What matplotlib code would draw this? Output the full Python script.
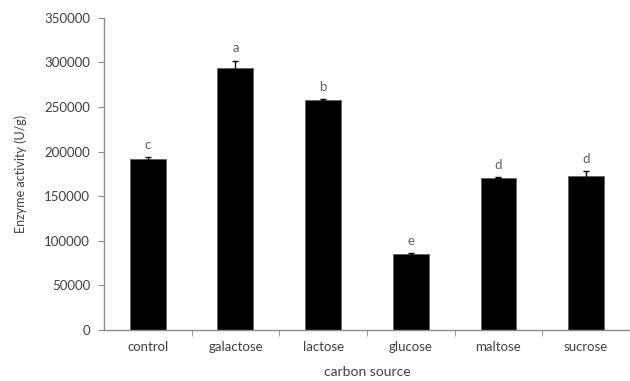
import matplotlib.pyplot as plt
import numpy as np

plt.rcParams['font.family'] = ['Lato', 'DejaVu Sans']

sources = ["control", "galactose", "lactose", "glucose", "maltose", "sucrose"]
activity = [192000, 294000, 258000, 85500, 170500, 173000]
errors = [1500, 8000, 1000, 1000, 500, 5000]
letters = ["c", "a", "b", "e", "d", "d"]

text_col = "#404040"
axis_col = "#8c8c8c"

fig = plt.figure(figsize=(6.3, 3.81), dpi=100)
ax = fig.add_axes([0.165, 0.134, 0.835, 0.819])

x = np.arange(len(sources))
ax.bar(x, activity, width=0.41, color="black", edgecolor="#606060", linewidth=0.6,
       yerr=errors, error_kw=dict(ecolor="black", elinewidth=1, capsize=2.5, capthick=1))

# significance letters above each bar
for xi, v, e, l in zip(x, activity, errors, letters):
    ax.text(xi, v + e + 7000, l, ha="center", va="bottom", fontsize=9.5, color="#606060")

ax.set_xlim(-0.5, len(sources) - 0.5)
ax.set_ylim(0, 350000)
ax.set_yticks(np.arange(0, 350001, 50000))
ax.set_xticks(x)
ax.set_xticklabels(sources)
ax.set_xticks(np.arange(0.5, len(sources) - 0.5, 1), minor=True)
ax.tick_params(axis="x", which="major", length=0, pad=8, labelsize=9.5, labelcolor=text_col)
ax.tick_params(axis="x", which="minor", length=4, color=axis_col, direction="out")
ax.tick_params(axis="y", length=4, color=axis_col, labelsize=9.5, labelcolor=text_col, pad=6)

for s in ["top", "right"]:
    ax.spines[s].set_visible(False)
for s in ["left", "bottom"]:
    ax.spines[s].set_color(axis_col)
    ax.spines[s].set_linewidth(1)

ax.set_ylabel("Enzyme activity (U/g)", fontsize=9, color=text_col, labelpad=12)
ax.set_xlabel("carbon source", fontsize=10, color=text_col, labelpad=9)

fig.savefig("out.png", dpi=100)
